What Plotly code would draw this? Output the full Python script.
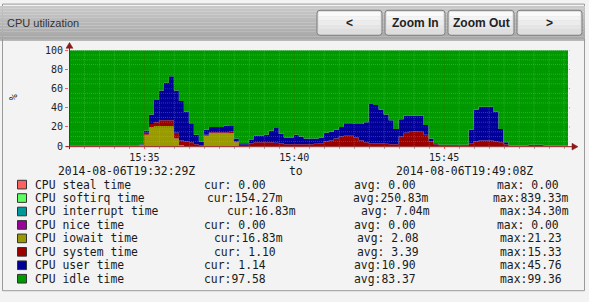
import plotly.graph_objects as go
from datetime import datetime, timedelta

W, H = 589, 302

# ---------------- data ----------------
title_text = "CPU utilization"
button_labels = ["<", "Zoom In", "Zoom Out", ">"]

start_time = "2014-08-06 15:32:29"
end_time = "2014-08-06 15:49:08"
step_seconds = 10
start_label = "2014-08-06T19:32:29Z"
end_label = "2014-08-06T19:49:08Z"

iowait = [
    0, 0, 0, 0, 0, 0, 0, 0, 0, 0,
    0, 0, 0, 0, 1, 12, 20, 21, 21, 21,
    21, 8, 1, 0, 0, 0, 0, 11, 13.5, 13.5,
    13.5, 13.5, 13.5, 4, 0, 0, 0, 0, 0, 0,
    0, 0, 0, 0, 0, 0, 0, 0, 0, 0,
    0, 0, 0, 0, 0, 0, 0, 0, 0, 0,
    0, 0, 0, 0, 0, 0, 0, 0, 0, 0,
    0, 0, 0, 0, 0, 0, 0, 0, 0, 0,
    0, 0, 0, 0, 0, 0, 0, 0, 0, 0,
    0, 0, 0, 0, 0, 0, 0, 0, 0, 0,
]
system = [
    0.3, 0.3, 0.3, 0.3, 0.3, 0.3, 0.3, 0.3, 0.3, 0.3,
    0.3, 0.3, 0.3, 0.3, 0.5, 2, 3, 4, 6, 6,
    6, 6, 5, 5, 4, 2, 1, 1, 1, 1,
    1, 1, 1.5, 1, 1.5, 1.5, 3, 4, 4, 4,
    4, 3.5, 3, 2, 2, 2, 2, 2, 2, 2.5,
    3, 5, 6, 8, 10, 11, 11, 9, 6, 4,
    3, 3, 3, 2.5, 2, 2, 10, 14, 15, 15.3,
    15, 12, 5, 2, 1, 1, 1, 1, 1, 1,
    3, 5, 6, 6, 6, 5, 4, 2, 0.4, 0.4,
    0.4, 0.4, 0.4, 0.4, 0.4, 0.4, 0.4, 0.4, 0.4, 0.4,
]
user = [
    0.3, 0.3, 0.3, 0.3, 0.3, 0.3, 0.3, 0.3, 0.3, 0.3,
    0.3, 0.3, 0.3, 0.3, 0.5, 2, 10, 23, 31, 39,
    45.8, 44, 41, 31, 20, 10, 4, 5, 5.5, 5.5,
    5.5, 7, 6, 3, 1.5, 1.5, 4, 7, 7, 8,
    12, 15.5, 10, 7, 7, 10, 8, 6, 6, 5.5,
    6, 9, 9, 9, 10, 13, 13, 14, 17, 21,
    41, 40, 35, 30.5, 25, 16, 18, 18, 17, 16.7,
    17, 10, 3, 1, 0.5, 0.5, 0.5, 0.5, 0.5, 0.5,
    14, 33, 35, 35, 35, 31, 14, 2, 0.4, 0.4,
    0.4, 0.4, 1.2, 1.2, 1.2, 0.4, 0.4, 0.4, 0.4, 0.4,
]
idle = [
    99.4, 99.4, 99.4, 99.4, 99.4, 99.4, 99.4, 99.4, 99.4, 99.4,
    99.4, 99.4, 99.4, 99.4, 98, 84, 67, 52, 42, 34,
    27.2, 42, 53, 64, 76, 88, 95, 83, 80, 80,
    80, 78.5, 79, 92, 97, 97, 93, 89, 89, 88,
    84, 81, 87, 91, 91, 88, 90, 92, 92, 92,
    91, 86, 85, 83, 80, 76, 76, 77, 77, 75,
    56, 57, 62, 67, 73, 82, 72, 68, 68, 68,
    68, 78, 92, 97, 98.5, 98.5, 98.5, 98.5, 98.5, 98.5,
    83, 62, 59, 59, 59, 64, 82, 96, 99.2, 99.2,
    99.2, 99.2, 98.4, 98.4, 98.4, 99.2, 99.2, 99.2, 99.2, 99.2,
]

legend_names = ["CPU steal time", "CPU softirq time", "CPU interrupt time", "CPU nice time",
                "CPU iowait time", "CPU system time", "CPU user time", "CPU idle time"]
cur_text = ["cur: 0.00", "cur:154.27m", "cur:16.83m", "cur: 0.00",
            "cur:16.83m", "cur: 1.10", "cur: 1.14", "cur:97.58"]
avg_text = ["avg: 0.00", "avg:250.83m", "avg: 7.04m", "avg: 0.00",
            "avg: 2.08", "avg: 3.39", "avg:10.90", "avg:83.37"]
max_text = ["max: 0.00", "max:839.33m", "max:34.30m", "max: 0.00",
            "max:21.23", "max:15.33", "max:45.76", "max:99.36"]

# ---------------- styles / layout positions ----------------
legend_colors = ["#FF6060", "#60FF60", "#009999", "#990099",
                 "#999900", "#990000", "#000099", "#009900"]
series_colors = {"iowait": "#999900", "system": "#990000", "user": "#000099", "idle": "#009900"}
cur_x = [203, 206, 226, 203, 213, 213, 203, 203]
avg_x = [353, 352, 360, 353, 356, 356, 353, 353]
max_x = [496, 492, 499, 496, 499, 499, 499, 499]
row_y0, row_dy = 186, 14

MONO = "DejaVu Sans Mono"
SANS = "Liberation Sans"
PL, PR, PT, PB = 69, 568, 46, 146   # plot box in pixels


def X(px):
    return px / W


def Y(py):
    return 1 - py / H


t0 = datetime.strptime(start_time, "%Y-%m-%d %H:%M:%S")
t_end = datetime.strptime(end_time, "%Y-%m-%d %H:%M:%S")
n = len(idle)
sec = [step_seconds * i for i in range(n)]
edges_s = sec + [(t_end - t0).total_seconds()]

# step-shaped stacked areas (RRD style): each sample holds for one step.
# Drawn on a hidden numeric x axis (seconds since start); the visible date axis overlays it.
fig = go.Figure()
base = [0.0] * n
first = True
for name, vals in [("iowait", iowait), ("system", system), ("user", user), ("idle", idle)]:
    top = [b + v for b, v in zip(base, vals)]
    sx, sy = [], []
    for i in range(n):
        sx += [edges_s[i], edges_s[i + 1]]
        sy += [top[i], top[i]]
    fig.add_trace(go.Scatter(
        x=sx, y=sy, mode="lines", fill="tozeroy" if first else "tonexty",
        line=dict(width=0, simplify=False), fillcolor=series_colors[name],
        name=name, showlegend=False, hoverinfo="skip", xaxis="x2"))
    base = top
    first = False

shapes = []
annotations = []

# page panel
shapes.append(dict(type="rect", xref="paper", yref="paper", x0=X(2.5), x1=X(584.5), y0=Y(296.5), y1=Y(-2),
                   line=dict(color="#9A9A9A", width=1), fillcolor="#F3F3F3", layer="below"))
# header gradient
bands = 12
for k in range(bands):
    c = int(200 - (200 - 168) * k / (bands - 1))
    shapes.append(dict(type="rect", xref="paper", yref="paper", x0=X(0), x1=X(585),
                       y0=Y(35 * (k + 1) / bands), y1=Y(35 * k / bands),
                       line=dict(width=0), fillcolor=f"rgb({c},{c},{c})", layer="below"))
shapes.append(dict(type="line", xref="paper", yref="paper", x0=X(0), x1=X(585), y0=Y(35.5), y1=Y(35.5),
                   line=dict(color="#8E8E8E", width=1), layer="below"))
annotations.append(dict(text=title_text, xref="paper", yref="paper", x=X(5), y=Y(18), xanchor="left",
                        yanchor="middle", showarrow=False, font=dict(family=SANS, size=11, color="#333333")))

# buttons
btn_x = [(317, 382), (385, 445), (448, 514), (517, 582)]
by0, by1, r = 4.5, 30.5, 3
for (bx0, bx1), lab in zip(btn_x, button_labels):
    def P(x, y):
        return f"{X(x):.5f},{Y(y):.5f}"
    path = (f"M{P(bx0 + r, by0)} L{P(bx1 - r, by0)} Q{P(bx1, by0)} {P(bx1, by0 + r)} "
            f"L{P(bx1, by1 - r)} Q{P(bx1, by1)} {P(bx1 - r, by1)} L{P(bx0 + r, by1)} "
            f"Q{P(bx0, by1)} {P(bx0, by1 - r)} L{P(bx0, by0 + r)} Q{P(bx0, by0)} {P(bx0 + r, by0)} Z")
    shapes.append(dict(type="path", xref="paper", yref="paper", path=path, fillcolor="#D9D9D9",
                       line=dict(color="#7E7E7E", width=1), layer="below"))
    nb = 5
    for k in range(nb):
        c = int(250 - (250 - 222) * k / (nb - 1))
        ya = by0 + 1.5 + (by1 - by0 - 3) * k / nb
        yb = by0 + 1.5 + (by1 - by0 - 3) * (k + 1) / nb
        shapes.append(dict(type="rect", xref="paper", yref="paper", x0=X(bx0 + 1.5), x1=X(bx1 - 1.5),
                           y0=Y(yb), y1=Y(ya), line=dict(width=0), fillcolor=f"rgb({c},{c},{c})",
                           layer="below"))
    annotations.append(dict(text=f"<b>{lab}</b>", xref="paper", yref="paper", x=X((bx0 + bx1) / 2),
                            y=Y(18), xanchor="center", yanchor="middle", showarrow=False,
                            font=dict(family=SANS, size=12, color="#222222")))

# grid (drawn above the data, as in the original)
minor_col = "rgba(190,190,190,0.3)"
major_col = "rgba(255,0,0,0.5)"
ext = 3 / (PR - PL)
for v in range(5, 100, 5):
    if v % 20 == 0:
        continue
    shapes.append(dict(type="line", xref="x domain", yref="y", x0=0, x1=1 + ext, y0=v, y1=v,
                       line=dict(color=minor_col, width=1, dash="1px,1px"), layer="above"))
tmin = t0.replace(second=30) if t0.second < 30 else t0.replace(second=0) + timedelta(minutes=1)
t = tmin
while t < t_end:
    if not (t.second == 0 and t.minute % 5 == 0):
        shapes.append(dict(type="line", xref="x", yref="y domain", x0=t, x1=t, y0=0, y1=1,
                           line=dict(color=minor_col, width=1, dash="1px,1px"), layer="above"))
    t += timedelta(seconds=30)
for v in range(20, 101, 20):
    shapes.append(dict(type="line", xref="x domain", yref="y", x0=0, x1=1 + ext, y0=v, y1=v,
                       line=dict(color=major_col, width=1, dash="1px,1px"), layer="above"))
t = t0.replace(minute=35, second=0)
while t < t_end:
    shapes.append(dict(type="line", xref="x", yref="y domain", x0=t, x1=t, y0=0, y1=1,
                       line=dict(color=major_col, width=1, dash="1px,1px"), layer="above"))
    t += timedelta(minutes=5)

# axis lines + arrows
axc = "#8B1A1A"
shapes.append(dict(type="line", xref="paper", yref="paper", x0=X(66), x1=X(574), y0=Y(146.5), y1=Y(146.5),
                   line=dict(color=axc, width=1), layer="above"))
shapes.append(dict(type="line", xref="paper", yref="paper", x0=X(69.5), x1=X(69.5), y0=Y(149), y1=Y(42),
                   line=dict(color=axc, width=1), layer="above"))
shapes.append(dict(type="path", xref="paper", yref="paper",
                   path=f"M{X(572)},{Y(143)} L{X(578)},{Y(146.5)} L{X(572)},{Y(150)} Z",
                   fillcolor=axc, line=dict(color=axc, width=0.5), layer="above"))
shapes.append(dict(type="path", xref="paper", yref="paper",
                   path=f"M{X(66)},{Y(44)} L{X(69.5)},{Y(38)} L{X(73)},{Y(44)} Z",
                   fillcolor=axc, line=dict(color=axc, width=0.5), layer="above"))

# y axis title
annotations.append(dict(text="%", xref="paper", yref="paper", x=X(13), y=Y(95), xanchor="center",
                        yanchor="middle", showarrow=False, textangle=-90,
                        font=dict(family=MONO, size=10, color="#222222")))

# date range row
lf = dict(family=MONO, size=11.4, color="#1A1A1A")
annotations.append(dict(text=start_label, xref="paper", yref="paper", x=X(56), y=Y(172), xanchor="left",
                        yanchor="middle", showarrow=False, font=lf))
annotations.append(dict(text="to", xref="paper", yref="paper", x=X(287), y=Y(172), xanchor="left",
                        yanchor="middle", showarrow=False, font=lf))
annotations.append(dict(text=end_label, xref="paper", yref="paper", x=X(394), y=Y(172), xanchor="left",
                        yanchor="middle", showarrow=False, font=lf))

# legend rows
for i, name in enumerate(legend_names):
    yc = row_y0 + i * row_dy
    shapes.append(dict(type="rect", xref="paper", yref="paper", x0=X(17.5), x1=X(26.5),
                       y0=Y(yc + 4.5), y1=Y(yc - 4.5), fillcolor=legend_colors[i],
                       line=dict(color="#333333", width=1), layer="above"))
    for txt, xx in [(name, 33), (cur_text[i], cur_x[i] - 1), (avg_text[i], avg_x[i] - 1), (max_text[i], max_x[i] - 1)]:
        annotations.append(dict(text=txt, xref="paper", yref="paper", x=X(xx), y=Y(yc), xanchor="left",
                                yanchor="middle", showarrow=False, font=lf))

tick_font = dict(family=MONO, size=10, color="#222222")
fig.update_layout(
    width=W, height=H, autosize=False,
    margin=dict(l=0, r=0, t=0, b=0, pad=0),
    paper_bgcolor="#F3F3F3", plot_bgcolor="#009900",
    showlegend=False,
    shapes=shapes, annotations=annotations,
    xaxis=dict(type="date", domain=[X(PL), X(PR)], range=[t0, t_end], showgrid=False, zeroline=False,
               showline=False, tickformat="%H:%M", tick0="2014-08-06 15:35:00", dtick=300000,
               ticks="outside", ticklen=2, tickcolor="rgba(255,0,0,0.6)", tickfont=tick_font,
               minor=dict(dtick=30000, tick0="2014-08-06 15:35:00", ticks="outside", ticklen=2,
                          tickcolor="#AAAAAA", showgrid=False),
               fixedrange=True),
    xaxis2=dict(domain=[X(PL), X(PR)], range=[0, edges_s[-1]], overlaying="x", anchor="y",
                visible=False, showgrid=False, zeroline=False, fixedrange=True),
    yaxis=dict(domain=[Y(PB), Y(PT)], range=[0, 100], dtick=20, showgrid=False, zeroline=False,
               showline=False, ticks="outside", ticklen=3, tickcolor="rgba(255,0,0,0.6)",
               tickfont=tick_font, fixedrange=True),
)

fig.write_html("out.html")
